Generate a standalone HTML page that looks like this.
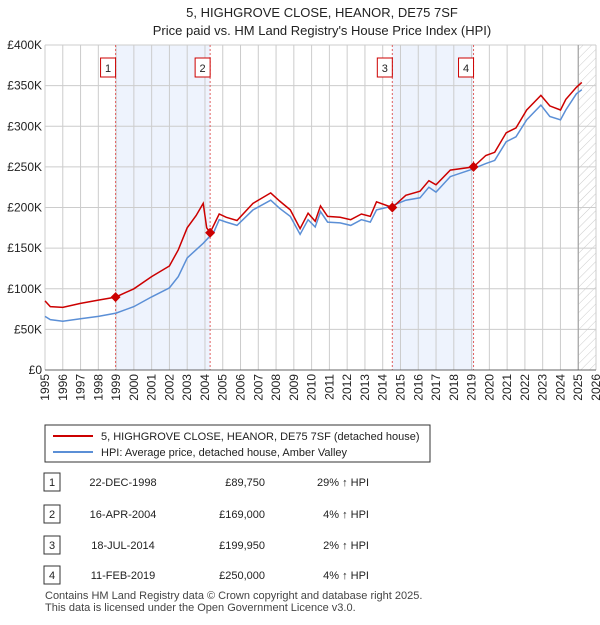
<!DOCTYPE html>
<html><head><meta charset="utf-8"><style>
body{margin:0;background:#fff;font-family:"Liberation Sans",sans-serif;}
svg text{font-family:"Liberation Sans",sans-serif;}
</style></head><body>
<svg id="c" width="600" height="620" xmlns="http://www.w3.org/2000/svg">
<defs><pattern id="h" width="6" height="6" patternUnits="userSpaceOnUse" patternTransform="rotate(45)"><line x1="0" y1="0" x2="0" y2="6" stroke="#ccc" stroke-width="1"/></pattern></defs>
<text x="322" y="17" text-anchor="middle" font-size="13" fill="#222">5, HIGHGROVE CLOSE, HEANOR, DE75 7SF</text>
<text x="322" y="35" text-anchor="middle" font-size="13" fill="#222">Price paid vs. HM Land Registry's House Price Index (HPI)</text>
<g id="plot"></g>
<rect x="45" y="425" width="385" height="37" fill="#fff" stroke="#333"/>
<line x1="53" y1="436" x2="93" y2="436" stroke="#cc0000" stroke-width="2"/>
<text x="101" y="440" font-size="11" fill="#222">5, HIGHGROVE CLOSE, HEANOR, DE75 7SF (detached house)</text>
<line x1="53" y1="452" x2="93" y2="452" stroke="#5b8fd6" stroke-width="2"/>
<text x="101" y="456" font-size="11" fill="#222">HPI: Average price, detached house, Amber Valley</text>
<g id="tbl" font-size="11" fill="#222"></g>
<text x="45" y="599" font-size="11" fill="#444">Contains HM Land Registry data © Crown copyright and database right 2025.</text>
<text x="45" y="611" font-size="11" fill="#444">This data is licensed under the Open Government Licence v3.0.</text>
</svg>
<script>
const hpiYears=[1995.0,1995.3,1996.0,1997.0,1998.0,1999.0,2000.0,2001.0,2002.0,2002.5,2003.0,2003.9,2004.5,2004.8,2005.2,2005.8,2006.7,2007.7,2008.2,2008.8,2009.35,2009.8,2010.2,2010.5,2010.9,2011.6,2012.2,2012.8,2013.3,2013.65,2014.4,2015.3,2016.1,2016.6,2017.0,2017.8,2018.9,2019.8,2020.3,2020.95,2021.5,2022.1,2022.9,2023.4,2024.0,2024.3,2024.9,2025.2];
const hpiValues=[66,62,60,63,66,70,78,90,101,115,138,156,170,185,182,178,197,209,199,189,167,185,176,195,182,181,178,185,182,197,201,209,212,225,219,238,246,254,258,281,287,308,326,312,308,320,340,345];
const priceYears=[1995.0,1995.3,1996.0,1997.0,1998.0,1998.97,2000.0,2001.0,2002.0,2002.5,2003.0,2003.5,2003.9,2004.1,2004.29,2004.8,2005.2,2005.8,2006.7,2007.7,2008.2,2008.8,2009.35,2009.8,2010.2,2010.5,2010.9,2011.6,2012.2,2012.8,2013.3,2013.65,2014.54,2015.3,2016.1,2016.6,2017.0,2017.8,2019.11,2019.8,2020.3,2020.95,2021.5,2022.1,2022.9,2023.4,2024.0,2024.3,2024.9,2025.2];
const priceValues=[85,78,77,82,86,89.75,100,115,128,148,175,190,205,175,169,192,188,184,205,218,208,197,174,193,183,202,189,188,185,192,189,207,199.95,215,220,233,228,246,250,264,268,292,298,320,338,325,320,333,348,354];
const saleYears=[1998.97,2004.29,2014.54,2019.11];
const saleValues=[89.75,169,199.95,250];
const saleDates=["22-DEC-1998","16-APR-2004","18-JUL-2014","11-FEB-2019"];
const salePrices=["£89,750","£169,000","£199,950","£250,000"];
const saleHpi=["29% ↑ HPI","4% ↑ HPI","2% ↑ HPI","4% ↑ HPI"];
const yTicks=[0,50,100,150,200,250,300,350,400];
const yTickLabels=["£0","£50K","£100K","£150K","£200K","£250K","£300K","£350K","£400K"];
const xTicks=[];for(let y=1995;y<=2026;y++)xTicks.push(y);

const NS="http://www.w3.org/2000/svg";
const X0=45,X1=596,Y0=370,Y1=45;
const xs=v=>X0+(v-1995)/31*(X1-X0);
const ys=v=>Y0-v/400*(Y0-Y1);
const g=document.getElementById('plot');
function mk(t,a,p){const e=document.createElementNS(NS,t);for(const k in a)e.setAttribute(k,a[k]);(p||g).appendChild(e);return e;}
let e;
e=mk('rect',{x:xs(saleYears[0]),y:Y1,width:xs(saleYears[1])-xs(saleYears[0]),height:Y0-Y1,fill:'#eef3fd'});


e=mk('rect',{x:xs(saleYears[2]),y:Y1,width:xs(saleYears[3])-xs(saleYears[2]),height:Y0-Y1,fill:'#eef3fd'});


e=mk('rect',{x:xs(2025),y:Y1,width:X1-xs(2025),height:Y0-Y1,fill:'url(#h)'});


xTicks.forEach(t=>{e=mk('line',{x1:xs(t),x2:xs(t),y1:Y1,y2:Y0,stroke:'#ccc','stroke-width':1});


const tx=xs(t)+4,ty=Y0+4;
e=mk('text',{x:tx,y:ty,'text-anchor':'end','font-size':12,fill:'#222',transform:`rotate(-90 ${tx} ${ty})`});e.textContent=t;

});
yTicks.forEach((t,i)=>{e=mk('line',{x1:X0,x2:X1,y1:ys(t),y2:ys(t),stroke:'#ccc','stroke-width':1});


e=mk('text',{x:X0-3,y:ys(t)+4,'text-anchor':'end','font-size':12,fill:'#222'});e.textContent=yTickLabels[i];

});
e=mk('line',{x1:xs(2025),x2:xs(2025),y1:Y1,y2:Y0,stroke:'#999','stroke-width':1});


saleYears.forEach((s,i)=>{e=mk('line',{x1:xs(s),x2:xs(s),y1:Y1,y2:Y0,stroke:'#e06060','stroke-width':1,'stroke-dasharray':'2,2'});

});
const pts=(xa,va)=>xa.map((x,i)=>xs(x).toFixed(1)+','+ys(va[i]).toFixed(1)).join(' ');
e=mk('polyline',{points:pts(hpiYears,hpiValues),fill:'none',stroke:'#5b8fd6','stroke-width':1.5});


e=mk('polyline',{points:pts(priceYears,priceValues),fill:'none',stroke:'#cc0000','stroke-width':1.5});


saleYears.forEach((s,i)=>{const cx=xs(s),cy=ys(saleValues[i]);
e=mk('polygon',{points:`${cx},${cy-5} ${cx+5},${cy} ${cx},${cy+5} ${cx-5},${cy}`,fill:'#cc0000'});


e=mk('rect',{x:cx-15,y:58,width:15,height:19,fill:'#fff',stroke:'#cc0000'});


e=mk('text',{x:cx-7.5,y:72,'text-anchor':'middle','font-size':11,fill:'#222'});e.textContent=i+1;

});
e=mk('line',{x1:X0,x2:X1,y1:Y0,y2:Y0,stroke:'#666'});


const tb=document.getElementById('tbl');
const rowY=[483,515,546,576];
saleDates.forEach((d,i)=>{const y=rowY[i];
e=mk('rect',{x:44,y:y-10,width:16,height:18,fill:'#fff',stroke:'#333'},tb);


e=mk('text',{x:52,y:y+3,'text-anchor':'middle'},tb);e.textContent=i+1;


e=mk('text',{x:123,y:y+3,'text-anchor':'middle'},tb);e.textContent=d;


e=mk('text',{x:265,y:y+3,'text-anchor':'end'},tb);e.textContent=salePrices[i];


e=mk('text',{x:369,y:y+3,'text-anchor':'end'},tb);e.textContent=saleHpi[i];

});
</script>
</body></html>
